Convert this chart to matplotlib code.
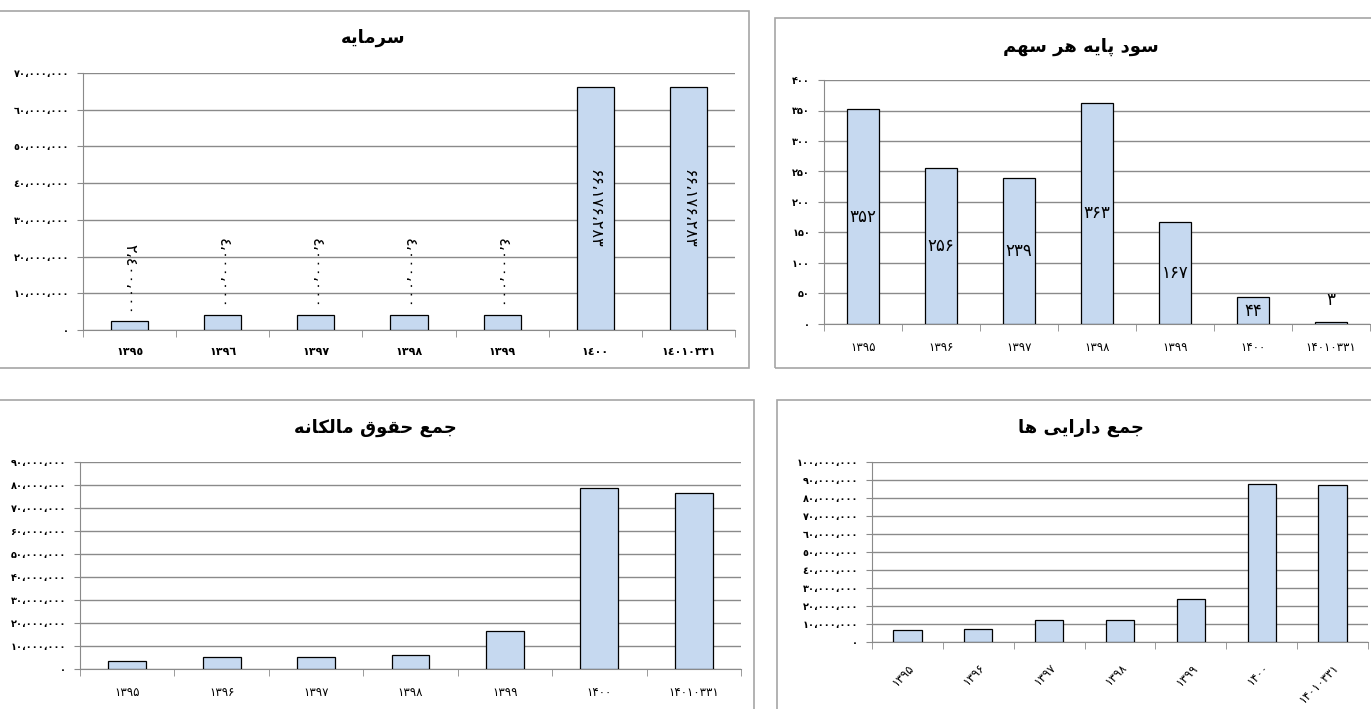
import matplotlib
matplotlib.use("Agg")
import matplotlib.pyplot as plt
from matplotlib.patches import Rectangle
from matplotlib.ticker import FixedLocator, FuncFormatter


plt.rcParams['font.family'] = ['DejaVu Sans']

# data
years = ["1395", "1396", "1397", "1398", "1399", "1400", "14010331"]
capital = [2400000, 4000000, 4000000, 4000000, 4000000, 66176283, 66176283]
eps = [352, 256, 239, 363, 167, 44, 3]
equity = [3500000, 5100000, 5400000, 6000000, 16400000, 78700000, 76700000]
assets = [6700000, 7400000, 12200000, 12200000, 23900000, 87800000, 87000000]

title_capital = "سرمایه"
title_eps = "سود پایه هر سهم"
title_equity = "جمع حقوق مالکانه"
title_assets = "جمع دارایی ها"

W, H = 1371, 709
BAR_COLOR = "#c6d9f0"
GRID_COLOR = "#8a8a8a"

PERSIAN = str.maketrans("0123456789,", "۰۱۲۳۴۵۶۷۸۹،")
ARABIC = str.maketrans("0123456789,", "٠١٢٣٤٥٦٧٨٩،")

# presentation forms: isolated, final, initial, medial
FORMS = {
    "ا": ("\ufe8d", "\ufe8e"),
    "د": ("\ufea9", "\ufeaa"),
    "ر": ("\ufead", "\ufeae"),
    "و": ("\ufeed", "\ufeee"),
    "پ": ("\ufb56", "\ufb57", "\ufb58", "\ufb59"),
    "ج": ("\ufe9d", "\ufe9e", "\ufe9f", "\ufea0"),
    "ح": ("\ufea1", "\ufea2", "\ufea3", "\ufea4"),
    "س": ("\ufeb1", "\ufeb2", "\ufeb3", "\ufeb4"),
    "ع": ("\ufec9", "\ufeca", "\ufecb", "\ufecc"),
    "ق": ("\ufed5", "\ufed6", "\ufed7", "\ufed8"),
    "ک": ("\ufb8e", "\ufb8f", "\ufb90", "\ufb91"),
    "ل": ("\ufedd", "\ufede", "\ufedf", "\ufee0"),
    "م": ("\ufee1", "\ufee2", "\ufee3", "\ufee4"),
    "ن": ("\ufee5", "\ufee6", "\ufee7", "\ufee8"),
    "ه": ("\ufee9", "\ufeea", "\ufeeb", "\ufeec"),
    "ی": ("\ufbfc", "\ufbfd", "\ufbfe", "\ufbff"),
}


def shape(text):
    # matplotlib has no arabic shaping, so join letters by hand and flip to visual order
    text = text.replace("ي", "ی").replace("ك", "ک")
    out = []
    for i, ch in enumerate(text):
        f = FORMS.get(ch)
        if f is None:
            out.append(ch)
            continue
        prev = text[i - 1] if i > 0 else ""
        nxt = text[i + 1] if i + 1 < len(text) else ""
        join_prev = len(FORMS.get(prev, ())) == 4
        join_next = len(f) == 4 and nxt in FORMS
        if join_prev and join_next:
            out.append(f[3])
        elif join_prev:
            out.append(f[1])
        elif join_next:
            out.append(f[2])
        else:
            out.append(f[0])
    return "".join(reversed(out))


def num(v, table):
    return f"{int(round(v)):,}".translate(table)


def px_axes(fig, x0, y0, x1, y1):
    return fig.add_axes([x0 / W, (H - y1) / H, (x1 - x0) / W, (y1 - y0) / H])


def frame(fig, x0, y0, x1, y1):
    fig.patches.append(Rectangle((x0 / W, (H - y1) / H), (x1 - x0) / W, (y1 - y0) / H,
                                 transform=fig.transFigure, fill=False,
                                 edgecolor="#a6a6a6", lw=1.2, zorder=0))


def setup_axes(ax, values, ymax, step, ytable, xtable, xbold, xsize, xrot=0):
    n = len(values)
    ax.bar(range(n), values, width=0.4, color=BAR_COLOR, edgecolor="black",
           lw=0.9, zorder=3)
    ax.set_xlim(-0.5, n - 0.5)
    ax.set_ylim(0, ymax)
    ax.set_yticks(range(0, int(ymax) + 1, int(step)))
    ax.yaxis.set_major_formatter(FuncFormatter(lambda v, p: num(v, ytable)))
    ax.grid(axis="y", color=GRID_COLOR, lw=1, zorder=0)
    for side in ["top", "right"]:
        ax.spines[side].set_visible(False)
    for side in ["left", "bottom"]:
        ax.spines[side].set_color(GRID_COLOR)
    ax.tick_params(axis="y", length=4, color=GRID_COLOR, pad=6)
    for lab in ax.get_yticklabels():
        lab.set_fontsize(7)
        lab.set_fontweight("bold")
    ax.set_xticks(range(n))
    ax.xaxis.set_minor_locator(FixedLocator([i - 0.5 for i in range(n + 1)]))
    ax.tick_params(axis="x", which="major", length=0, pad=12)
    ax.tick_params(axis="x", which="minor", length=5, color=GRID_COLOR)
    labels = [y.translate(xtable) for y in years]
    if xrot:
        ax.set_xticklabels(labels, rotation=xrot, ha="right", va="top",
                           rotation_mode="anchor", fontsize=xsize)
        ax.tick_params(axis="x", which="major", pad=14)
    else:
        ax.set_xticklabels(labels, fontsize=xsize,
                           fontweight="bold" if xbold else "normal")


fig = plt.figure(figsize=(W / 100, H / 100), dpi=100)

frame(fig, -10, 11, 749, 368)
frame(fig, 775, 18, W + 10, 368)
frame(fig, -10, 400, 754, H + 10)
frame(fig, 777, 400, W + 10, H + 10)

# top left: capital
ax1 = px_axes(fig, 83, 73, 735, 330)
setup_axes(ax1, capital, 70000000, 10000000, ARABIC, ARABIC, True, 8)
for i, v in enumerate(capital):
    if v > 0.2 * max(capital):
        ax1.text(i, v / 2, num(v, PERSIAN), rotation=-90, ha="center", va="center",
                 fontsize=11.5, zorder=5)
    else:
        ax1.annotate(num(v, ARABIC), (i, v), xytext=(0, 5), textcoords="offset points",
                     rotation=-90, ha="center", va="bottom", fontsize=11.5, zorder=5)
fig.text(373 / W, 1 - 38 / H, shape(title_capital), ha="center", va="center",
         fontsize=13, fontweight="bold")

# top right: earnings per share
ax2 = px_axes(fig, 824, 80, 1370, 324)
setup_axes(ax2, eps, 400, 50, PERSIAN, PERSIAN, False, 8.5)
for i, v in enumerate(eps):
    y = v / 2 if v > 20 else v + 36
    ax2.text(i, y, num(v, PERSIAN), ha="center", va="center", fontsize=12, zorder=5)
fig.text(1081 / W, 1 - 47 / H, shape(title_eps), ha="center", va="center",
         fontsize=13, fontweight="bold")

# bottom left: equity
ax3 = px_axes(fig, 80, 462, 741, 669)
setup_axes(ax3, equity, 90000000, 10000000, PERSIAN, PERSIAN, False, 8.5)
fig.text(375 / W, 1 - 428 / H, shape(title_equity), ha="center", va="center",
         fontsize=13, fontweight="bold")

# bottom right: total assets
ax4 = px_axes(fig, 872, 462, 1368, 642)
setup_axes(ax4, assets, 100000000, 10000000, ARABIC, PERSIAN, False, 8.5, xrot=45)
fig.text(1081 / W, 1 - 428 / H, shape(title_assets), ha="center", va="center",
         fontsize=13, fontweight="bold")

fig.savefig("out.png", dpi=100)
